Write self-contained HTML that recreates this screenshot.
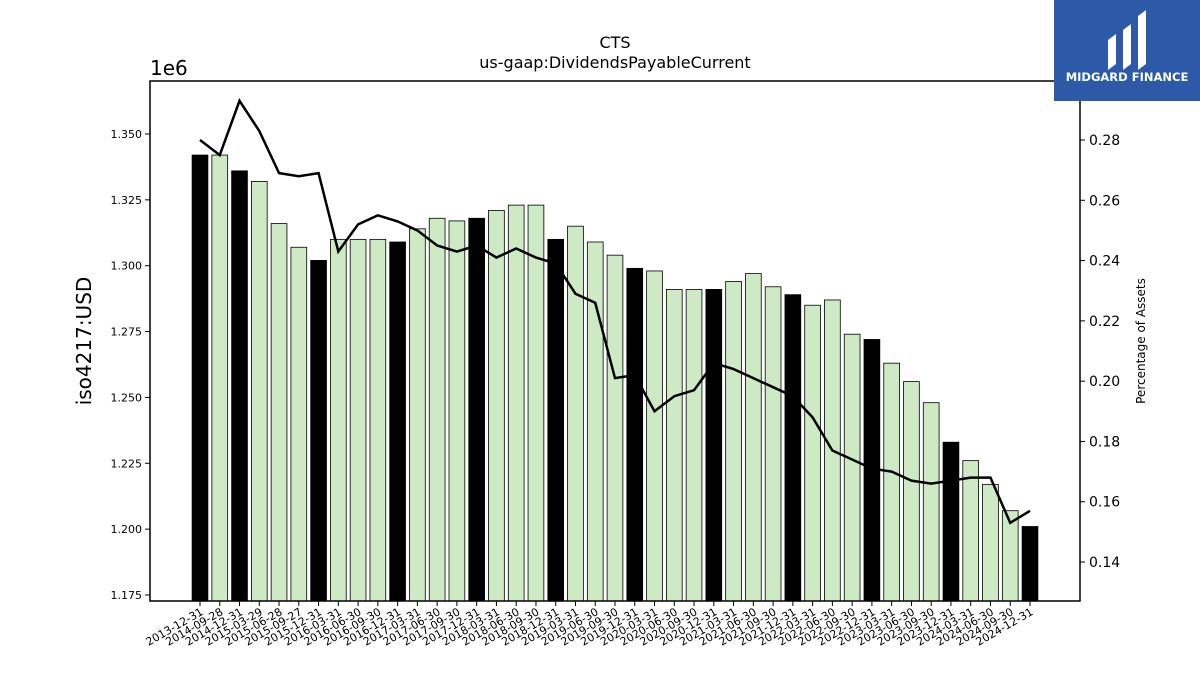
<!DOCTYPE html>
<html><head><meta charset="utf-8"><style>
body{margin:0;background:#fff;font-family:"Liberation Sans","DejaVu Sans",sans-serif}
svg text{font-family:"DejaVu Sans","Liberation Sans",sans-serif}
</style></head><body>
<svg id="c" width="1200" height="675" xmlns="http://www.w3.org/2000/svg">
<text x="615" y="48" text-anchor="middle" font-size="16">CTS</text>
<text x="615" y="68" text-anchor="middle" font-size="16">us-gaap:DividendsPayableCurrent</text>
<text x="150" y="75" font-size="20">1e6</text>
<text transform="translate(91,341) rotate(-90)" text-anchor="middle" font-size="20">iso4217:USD</text>
<text transform="translate(1145,341) rotate(-90)" text-anchor="middle" font-size="12">Percentage of Assets</text>
<g id="marks"></g>
<rect x="150" y="81" width="930" height="520" fill="none" stroke="#000" stroke-width="1.5"/>
<g>
<rect x="1054" y="0" width="146" height="101" fill="#2d5aa8"/>
<path d="M1108 70 L1108 40 L1116 34 L1116 64 Z M1123 70 L1123 30 L1131 24 L1131 64 Z M1138 70 L1138 16 L1146 10 L1146 64 Z" fill="#fff"/>
<text x="1127" y="81" text-anchor="middle" font-size="11.5" font-weight="bold" fill="#fff">MIDGARD FINANCE</text>
</g>
</svg>
<script>
const categories=["2013-12-31","2014-09-28","2014-12-31","2015-03-29","2015-06-28","2015-09-27","2015-12-31","2016-03-31","2016-06-30","2016-09-30","2016-12-31","2017-03-31","2017-06-30","2017-09-30","2017-12-31","2018-03-31","2018-06-30","2018-09-30","2018-12-31","2019-03-31","2019-06-30","2019-09-30","2019-12-31","2020-03-31","2020-06-30","2020-09-30","2020-12-31","2021-03-31","2021-06-30","2021-09-30","2021-12-31","2022-03-31","2022-06-30","2022-09-30","2022-12-31","2023-03-31","2023-06-30","2023-09-30","2023-12-31","2024-03-31","2024-06-30","2024-09-30","2024-12-31"];
const values=[1.342,1.342,1.336,1.332,1.316,1.307,1.302,1.310,1.310,1.310,1.309,1.314,1.318,1.317,1.318,1.321,1.323,1.323,1.310,1.315,1.309,1.304,1.299,1.298,1.291,1.291,1.291,1.294,1.297,1.292,1.289,1.285,1.287,1.274,1.272,1.263,1.256,1.248,1.233,1.226,1.217,1.207,1.201];
const pct=[0.280,0.275,0.293,0.283,0.269,0.268,0.269,0.243,0.252,0.255,0.253,0.250,0.245,0.243,0.245,0.241,0.244,0.241,0.239,0.229,0.226,0.201,0.202,0.190,0.195,0.197,0.206,0.204,0.201,0.198,0.195,0.188,0.177,0.174,0.171,0.170,0.167,0.166,0.167,0.168,0.168,0.153,0.157];
const yTicks=[1.175,1.200,1.225,1.250,1.275,1.300,1.325,1.350];
const y2Ticks=[0.14,0.16,0.18,0.20,0.22,0.24,0.26,0.28];
const NS="http://www.w3.org/2000/svg";
const g=document.getElementById('marks');
const x=i=>200+i*(830/(categories.length-1));
const y=v=>595-(v-1.175)/0.025*65.86;
const y2=v=>140-(v-0.28)/0.02*60.29;
function mk(t,a){const e=document.createElementNS(NS,t);for(const k in a)e.setAttribute(k,a[k]);g.appendChild(e);return e;}
const bw=15.8;
categories.forEach((c,i)=>{
 const black=c.endsWith("12-31");
 const r=mk('rect',{x:x(i)-bw/2,y:y(values[i]),width:bw,height:601-y(values[i]),fill:black?'#000':'#cdeac5',stroke:'#000','stroke-width':0.8});
 
 
 const tk=mk('line',{x1:x(i),x2:x(i),y1:601,y2:606,stroke:'#000'});
 
 
 const t=mk('text',{x:0,y:0,'font-size':11,'text-anchor':'end',transform:`translate(${x(i)+4},${614}) rotate(-30)`});
 t.textContent=c;
 
 
});
yTicks.forEach(v=>{
 const l=mk('line',{x1:145,x2:150,y1:y(v),y2:y(v),stroke:'#000'});
 
 
 const t=mk('text',{x:142,y:y(v)+4,'font-size':11,'text-anchor':'end'});
 t.textContent=v.toFixed(3);
 
 
});
y2Ticks.forEach(v=>{
 const l=mk('line',{x1:1080,x2:1085,y1:y2(v),y2:y2(v),stroke:'#000'});
 
 
 const t=mk('text',{x:1089,y:y2(v)+5,'font-size':14});
 t.textContent=v.toFixed(2);
 
 
});
const p=mk('polyline',{points:pct.map((v,i)=>x(i)+','+y2(v)).join(' '),fill:'none',stroke:'#000','stroke-width':2.5});


</script>
</body></html>
